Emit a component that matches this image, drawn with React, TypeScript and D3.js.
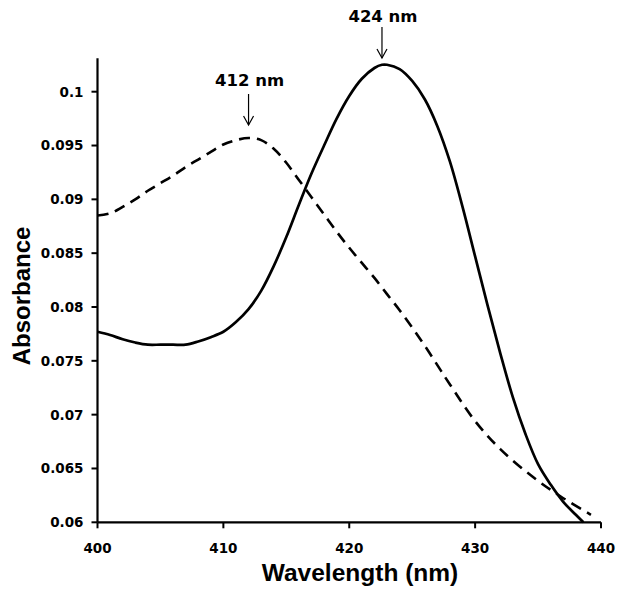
import React from "react";
import * as d3 from "d3";

const wavelengthsSolid = [400,401,402,403,404,405,406,407,408,409,410,411,412,413,414,415,416,417,418,419,420,421,422,422.6,423,424,425,426,427,428,429,430,431,432,433,434,435,436,437,438,438.6];
const absorbanceSolid = [0.0777,0.0774,0.0770,0.0767,0.0765,0.0765,0.0765,0.0765,0.0768,0.0772,0.0777,0.0786,0.0798,0.0815,0.0838,0.0865,0.0895,0.0924,0.0950,0.0975,0.0996,0.1012,0.1022,0.1025,0.1025,0.1021,0.1010,0.0993,0.0968,0.0935,0.0893,0.0847,0.0801,0.0757,0.0716,0.0682,0.0654,0.0635,0.0619,0.0607,0.0600];

const wavelengthsDashed = [400,401,402,403,404,405,406,407,408,409,410,411,412,413,414,415,416,417,418,419,420,421,422,423,424,425,426,427,428,430,432,434.6,436.8,439.2];
const absorbanceDashed = [0.0885,0.0887,0.0893,0.0900,0.0908,0.0915,0.0922,0.0930,0.0937,0.0944,0.0951,0.0955,0.0957,0.0955,0.0947,0.0934,0.0918,0.0902,0.0886,0.0870,0.0855,0.0841,0.0827,0.0812,0.0797,0.0781,0.0764,0.0746,0.0728,0.0694,0.0668,0.0642,0.0624,0.0607];

const xTicks = [400, 410, 420, 430, 440];
const yTicks = [0.06, 0.065, 0.07, 0.075, 0.08, 0.085, 0.09, 0.095, 0.1];
const yTickLabels = ["0.06", "0.065", "0.07", "0.075", "0.08", "0.085", "0.09", "0.095", "0.1"];

const annotations = [
  { label: "412 nm", wavelength: 412, textY: 80, arrowTop: 94, arrowBottom: 125 },
  { label: "424 nm", wavelength: 422.6, textY: 16, arrowTop: 27, arrowBottom: 58 },
];

export default function App() {
  const W = 624, H = 591;
  const x = d3.scaleLinear().domain([400, 440]).range([97.5, 601]);
  const y = d3.scaleLinear().domain([0.06, 0.1]).range([522.3, 91.7]);
  const yTop = y(0.1031);

  const line = d3.line<[number, number]>()
    .x((d) => x(d[0]))
    .y((d) => y(d[1]))
    .curve(d3.curveCatmullRom.alpha(0.5));

  const solid: [number, number][] = wavelengthsSolid.map((w, i) => [w, absorbanceSolid[i]]);
  const dashed: [number, number][] = wavelengthsDashed.map((w, i) => [w, absorbanceDashed[i]]);

  const tickFont = "'DejaVu Sans', sans-serif";
  const titleFont = "'Liberation Sans', Arial, sans-serif";

  return (
    <svg width={W} height={H} style={{ position: "absolute", left: 0, top: 0, background: "#fff" }}>
      <rect width={W} height={H} fill="#fff" />
      <path d={line(dashed) || ""} fill="none" stroke="#000" strokeWidth={2.6} strokeDasharray="11,7" />
      <path d={line(solid) || ""} fill="none" stroke="#000" strokeWidth={2.7} />
      <line x1={x(400)} x2={x(400)} y1={yTop} y2={y(0.06)} stroke="#000" strokeWidth={2.2} />
      <line x1={x(400)} x2={x(440)} y1={y(0.06)} y2={y(0.06)} stroke="#000" strokeWidth={2.2} />
      {yTicks.map((t, i) => (
        <g key={"y" + i}>
          <line x1={x(400) - 6} x2={x(400)} y1={y(t)} y2={y(t)} stroke="#000" strokeWidth={2} />
          <text x={x(400) - 14} y={y(t)} dy="0.36em" textAnchor="end" fontFamily={tickFont} fontWeight="bold" fontSize={13.5} fill="#000">
            {yTickLabels[i]}
          </text>
        </g>
      ))}
      {xTicks.map((t, i) => (
        <g key={"x" + i}>
          <line x1={x(t)} x2={x(t)} y1={y(0.06)} y2={y(0.06) + 6} stroke="#000" strokeWidth={2} />
          <text x={x(t)} y={553} textAnchor="middle" fontFamily={tickFont} fontWeight="bold" fontSize={13.5} fill="#000">
            {t}
          </text>
        </g>
      ))}
      <text x={360} y={581} textAnchor="middle" fontFamily={titleFont} fontWeight="bold" fontSize={24.5} fill="#000">
        Wavelength (nm)
      </text>
      <text transform={`translate(30, ${296}) rotate(-90)`} textAnchor="middle" fontFamily={titleFont} fontWeight="bold" fontSize={24} fill="#000">
        Absorbance
      </text>
      {annotations.map((a, i) => (
        <g key={"a" + i}>
          <text x={x(a.wavelength) + 1} y={a.textY} dy="0.36em" textAnchor="middle" fontFamily={tickFont} fontWeight="bold" fontSize={16.5} fill="#000">
            {a.label}
          </text>
          <line x1={x(a.wavelength)} x2={x(a.wavelength)} y1={a.arrowTop} y2={a.arrowBottom} stroke="#000" strokeWidth={1.2} />
          <path d={`M${x(a.wavelength) - 5},${a.arrowBottom - 9} L${x(a.wavelength)},${a.arrowBottom} L${x(a.wavelength) + 5},${a.arrowBottom - 9}`} fill="none" stroke="#000" strokeWidth={1.2} />
        </g>
      ))}
    </svg>
  );
}
